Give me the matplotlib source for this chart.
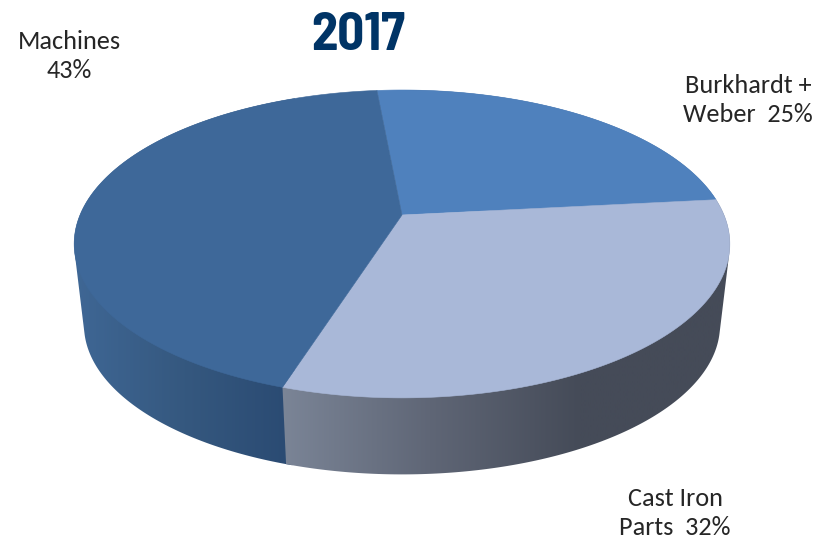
import numpy as np
from matplotlib import pyplot as plt
from matplotlib.colors import LinearSegmentedColormap
from matplotlib.patches import Polygon

title = '2017'
labels = ['Burkhardt +\nWeber  {}%', 'Cast Iron\nParts  {}%', 'Machines\n{}%']
percents = [25, 32, 43]
# the slices as drawn are not quite the printed numbers
shares = [24.8, 31.6, 43.6]
top_colors = ['#4f81bd', '#a9b8d8', '#3e6899']
side_colors = [['#3b6291', '#3b6291'],
               ['#7b8597', '#5f6676', '#454b58', '#454b58'],
               ['#3f6795', '#35587f', '#2a4a72']]
# gradient ends in pixels
side_spans = [(400, 730), (280, 730), (74, 295)]
side_order = [0, 2, 1]
label_pos = [(748, 100), (675, 513), (69, 56)]

start_angle = 95.3
persp = 0.188


def rim(theta, scale, cx, cy):
    # circle on the table seen in perspective, far side squeezed
    x, y = np.cos(theta), np.sin(theta)
    w = 1 + persp * y
    return cx + scale * 322 * x / w, cy - scale * 148.5 * y / w


def hull(points):
    # monotone chain, the side of a slice is the hull of its two arcs
    pts = sorted(map(tuple, points))

    def half(seq):
        out = []
        for p in seq:
            while len(out) > 1 and ((out[-1][0] - out[-2][0]) * (p[1] - out[-2][1])
                                    - (out[-1][1] - out[-2][1]) * (p[0] - out[-2][0])) <= 0:
                out.pop()
            out.append(p)
        return out[:-1]

    return np.array(half(pts) + half(pts[::-1]))


fig = plt.figure(figsize=(8.31, 5.43), dpi=100)
ax = fig.add_axes([0, 0, 1, 1])
ax.axis('off')

edges = np.radians(start_angle - 360 * np.cumsum([0] + shares) / sum(shares))
overlap = np.radians(1.0)

# sides first, tops cover the hidden back part
for n, i in enumerate(side_order):
    # cast iron goes on last and lies over the machines side, no white seam at the join
    start = edges[i] + overlap if i == 2 else edges[i]
    t = np.linspace(start, edges[i + 1], 200)
    x1, y1 = rim(t, 1, 402, 215)
    x2, y2 = rim(t, 0.97, 402, 297)
    clip = Polygon(hull(np.r_[np.c_[x1, y1], np.c_[x2, y2]]), closed=True,
                   transform=ax.transData, fc='none', ec='none')
    ax.add_patch(clip)
    cmap = LinearSegmentedColormap.from_list('side%d' % i, side_colors[i])
    grad = np.linspace(0, 1, 256).reshape(1, -1)
    im = ax.imshow(grad, cmap=cmap, aspect='auto', interpolation='bilinear',
                   extent=(side_spans[i][0], side_spans[i][1], 543, 0), zorder=1 + n * 0.1)
    im.set_clip_path(clip)

ax.set_xlim(0, 831)
ax.set_ylim(543, 0)

for i in range(len(shares)):
    t = np.linspace(edges[i], edges[i + 1], 200)
    x1, y1 = rim(t, 1, 402, 215)
    xy = np.r_[[[402, 215]], np.c_[x1, y1]]
    ax.add_patch(Polygon(xy, closed=True, fc=top_colors[i], ec=top_colors[i], lw=0.4, zorder=2))

for lab, v, (x, y) in zip(labels, percents, label_pos):
    ax.text(x, y, lab.format(v), ha='center', va='center', fontsize=18.9,
            family=['Carlito', 'Lato'], color='#262626', linespacing=1.3, zorder=3)

ax.text(358, 50, title, ha='center', va='baseline', fontsize=38, fontweight='bold',
        family=['Barlow Semi Condensed', 'Liberation Sans'], color='#003466', zorder=3)

fig.savefig('out.png', dpi=100)
